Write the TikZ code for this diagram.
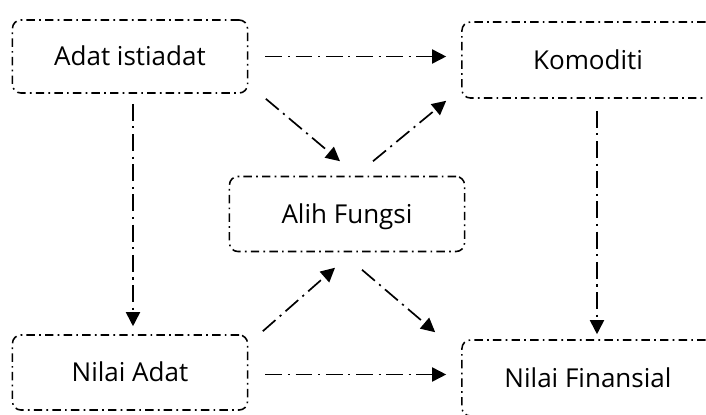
\documentclass[tikz,border=0pt]{standalone}
\usepackage{fontspec}
\setmainfont{Open Sans}
\usetikzlibrary{arrows.meta,calc}

\begin{document}
\begin{tikzpicture}[x=0.025cm,y=-0.025cm,
  kotak/.style={draw=black,line width=1.1pt,rounded corners=6pt,
    dash pattern=on 6pt off 3pt on 1.2pt off 3pt,inner sep=0pt,
    font=\fontsize{18.5}{20}\selectfont,text height=13pt,text depth=0pt},
  panah/.style={line width=1.2pt,dash pattern=on 12pt off 4pt on 1.5pt off 4pt,
    -{Triangle[length=10pt,width=10pt]}}]
\clip (0,0) rectangle (706,415);

\node[kotak,minimum width=5.875cm,minimum height=1.825cm] (adat) at (130,56.5) {Adat istiadat};
\node[kotak,minimum width=6.3cm,minimum height=1.9cm] (komoditi) at (588,60) {Komoditi};
\node[kotak,minimum width=5.875cm,minimum height=1.875cm] (alih) at (347,214) {Alih Fungsi};
\node[kotak,minimum width=5.875cm,minimum height=1.875cm] (nilaiadat) at (130,372.5) {Nilai Adat};
\node[kotak,minimum width=6.3cm,minimum height=1.9cm] (nilaifin) at (588,378) {Nilai Finansial};

\draw[panah] ($(adat.east)+(17,0)$) -- ($(adat.east -| komoditi.west)+(-15,0)$);
\draw[panah] ($(nilaiadat.east)+(17,2)$) -- ($(nilaiadat.east -| nilaifin.west)+(-15,2)$);
\draw[panah] ($(adat.south)+(3,10)$) -- ($(nilaiadat.north)+(3,-8)$);
\draw[panah] ($(komoditi.south)+(9,12)$) -- ($(nilaifin.north)+(9,-5)$);
\draw[panah] ($(adat.south east)+(17.5,5)$) -- ($(alih.north)+(-7,-14.5)$);
\draw[panah] ($(alih.north)+(26,-14.5)$) -- ($(komoditi.south west)+(-15,2)$);
\draw[panah] ($(nilaiadat.north east)+(14.5,-3)$) -- ($(alih.south)+(-12,15.5)$);
\draw[panah] ($(alih.south)+(15,17.5)$) -- ($(nilaifin.north west)+(-26,-7)$);

\end{tikzpicture}
\end{document}
